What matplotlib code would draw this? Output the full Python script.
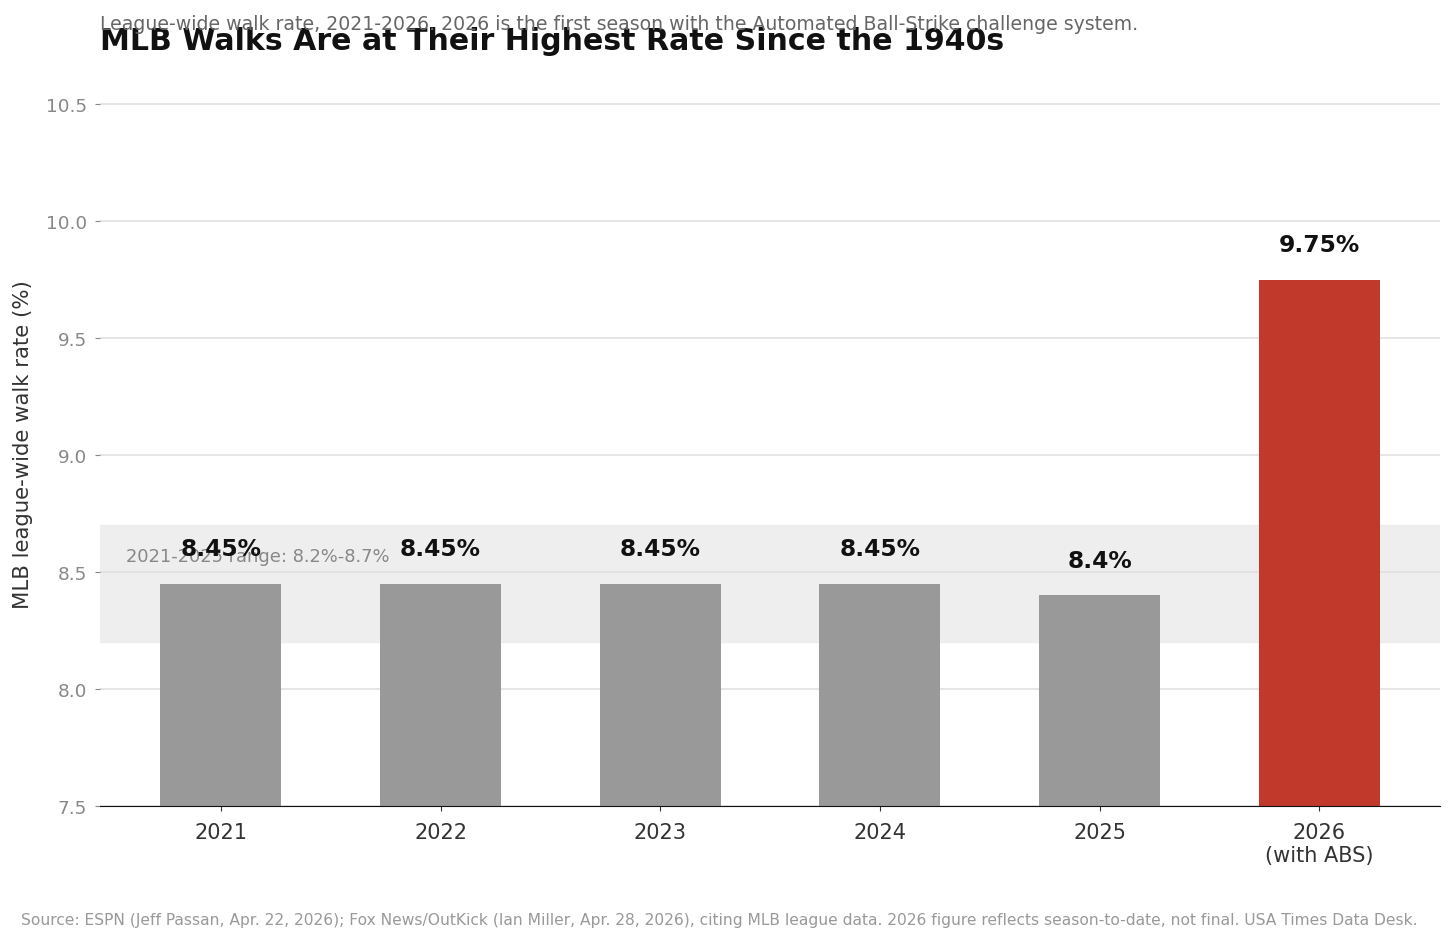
import matplotlib
matplotlib.use("Agg")
import matplotlib.pyplot as plt

# data
seasons = ["2021", "2022", "2023", "2024", "2025", "2026\n(with ABS)"]
walk_rate = [8.45, 8.45, 8.45, 8.45, 8.4, 9.75]
value_labels = ["8.45%", "8.45%", "8.45%", "8.45%", "8.4%", "9.75%"]
range_low, range_high = 8.2, 8.7

bar_colors = ["#999999"] * 5 + ["#c0392b"]

fig = plt.figure(figsize=(14.56, 9.45), dpi=100)
ax = fig.add_axes([0.0687, 0.146, 0.9203, 0.7676])

# prior-seasons range band
ax.axhspan(range_low, range_high, color="#eeeeee", zorder=0)
ax.text(-0.43, 8.57, f"2021-2025 range: {range_low}%-{range_high}%",
        fontsize=12.85, color="#888888", va="center", ha="left", zorder=1)

x = list(range(len(seasons)))
ax.bar(x, walk_rate, width=0.55, color=bar_colors, zorder=2)

for xi, v, lab in zip(x, walk_rate, value_labels):
    ax.text(xi, v + 0.15, lab, ha="center", va="center",
            fontsize=16.8, fontweight="bold", color="#111111", zorder=3)

ax.set_xlim(-0.55, 5.55)
ax.set_ylim(7.5, 10.6)
ax.set_yticks([7.5, 8.0, 8.5, 9.0, 9.5, 10.0, 10.5])
ax.set_xticks(x)
ax.set_xticklabels(seasons, fontsize=15, color="#333333")
ax.tick_params(axis="y", labelsize=13.3, labelcolor="#888888", color="#888888", pad=6)
ax.tick_params(axis="x", color="#333333", pad=8)
ax.yaxis.grid(True, color="#e0e0e0", linewidth=1.2, zorder=0)
ax.set_axisbelow(True)

for side in ("top", "right", "left"):
    ax.spines[side].set_visible(False)
ax.spines["bottom"].set_color("#111111")

ax.set_ylabel("MLB league-wide walk rate (%)", fontsize=15.3, color="#333333", labelpad=9)

fig.text(100 / 1456, 1 - 42 / 945, "MLB Walks Are at Their Highest Rate Since the 1940s",
         fontsize=21.6, fontweight="bold", color="#111111", va="center", ha="left")
fig.text(100 / 1456, 1 - 25 / 945,
         "League-wide walk rate, 2021-2026. 2026 is the first season with the Automated Ball-Strike challenge system.",
         fontsize=13.6, color="#666666", va="center", ha="left")
fig.text(21 / 1456, 1 - 921 / 945,
         "Source: ESPN (Jeff Passan, Apr. 22, 2026); Fox News/OutKick (Ian Miller, Apr. 28, 2026), citing MLB league data. "
         "2026 figure reflects season-to-date, not final. USA Times Data Desk.",
         fontsize=11.15, color="#999999", va="center", ha="left")

fig.savefig("out.png", dpi=100)
